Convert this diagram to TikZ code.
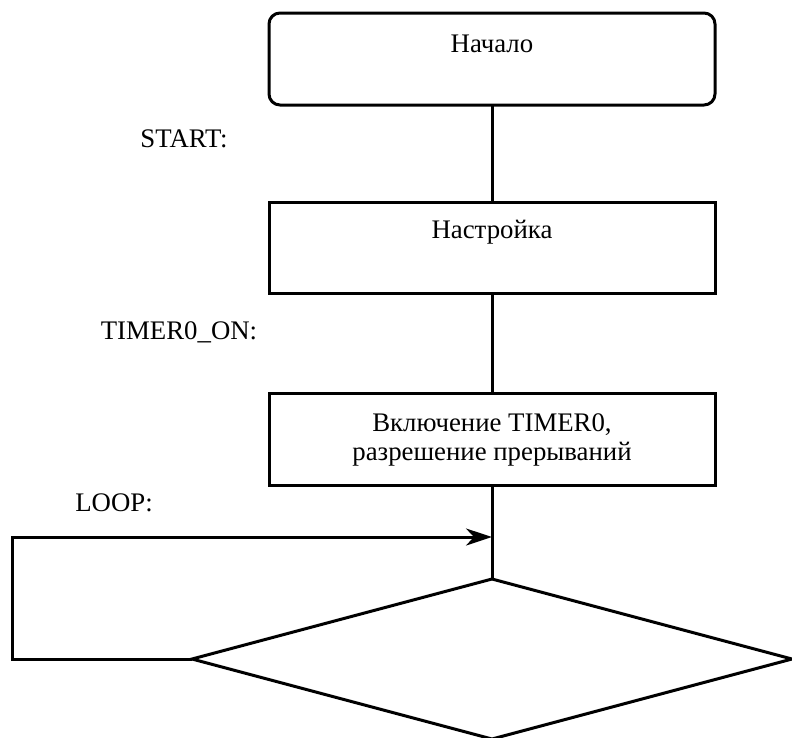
\documentclass[tikz,border=0pt]{standalone}
\usepackage{fontspec}
\setmainfont{Liberation Serif}
\usetikzlibrary{arrows.meta,shapes.geometric}
\begin{document}
\begin{tikzpicture}[x=1pt,y=-1pt,
  every node/.style={font=\fontsize{26.8}{29.5}\selectfont},
  line/.style={line width=3pt},
  blockbox/.style={draw,line width=3pt,minimum width=446pt,inner sep=0pt,outer sep=0pt},
  roundbox/.style={blockbox,rounded corners=11pt},
  txt/.style={inner sep=0pt,align=center},
  lbl/.style={inner sep=0pt},
  decision/.style={draw,diamond,line width=3pt,minimum width=600pt,minimum height=160pt,inner sep=0pt,outer sep=0pt,aspect=3.75}]
\useasboundingbox (0,0) rectangle (792,737);
\node[roundbox,minimum height=92pt] (start) at (492,59) {};
\node[txt] (tstart) at (492,44) {Начало};
\node[blockbox,minimum height=91pt] (setup) at (492,247.5) {};
\node[txt] (tsetup) at (492,232) {Настройка};
\node[blockbox,minimum height=92pt] (timer) at (492,439) {};
\node[txt] (ttimer) at (492,440) {Включение TIMER0,\\разрешение прерываний};
\node[decision] (dec) at (492,659) {};
\node[lbl] (lstart) at (184,139) {START:};
\node[lbl] (ltimer) at (179,332) {TIMER0\_ON:};
\node[lbl] (lloop) at (114,503) {LOOP:};
\coordinate (loopin) at (492,537);
\coordinate (loopleft) at (12,659);
\draw[line] (start.south) -- (setup.north);
\draw[line] (setup.south) -- (timer.north);
\draw[line] (timer.south) -- (dec.north);
\draw[line,-{Stealth[length=26pt,width=17pt,inset=8pt]}] (dec.west) -- (loopleft) |- (loopin);
\end{tikzpicture}
\end{document}
